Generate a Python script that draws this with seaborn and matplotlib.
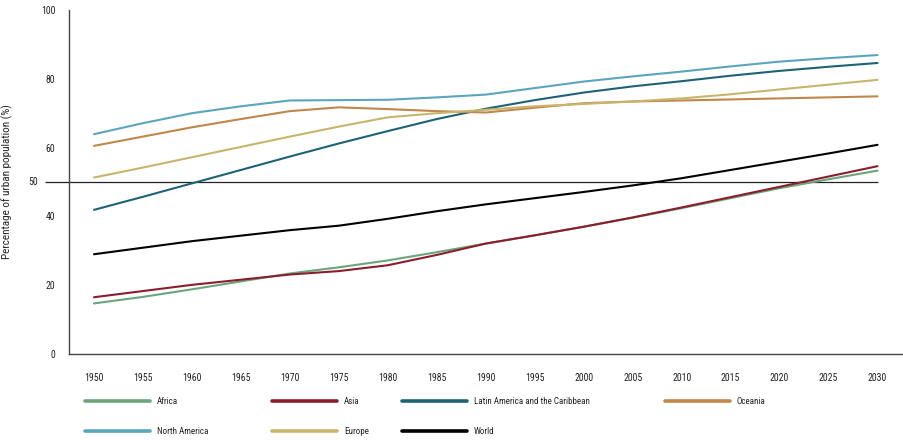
import numpy as np
import pandas as pd
import matplotlib.pyplot as plt
import seaborn as sns
from matplotlib.lines import Line2D

# --- data (% urban population) ---
years = list(range(1950, 2031, 5))
africa = [14.7, 16.6, 18.8, 21.1, 23.4, 25.2, 27.2, 29.6, 32.1, 34.5, 37.0, 39.6, 42.4, 45.3, 48.2, 50.8, 53.3]
asia = [16.5, 18.3, 20.1, 21.6, 23.1, 24.1, 25.8, 28.8, 32.1, 34.5, 37.0, 39.7, 42.6, 45.6, 48.6, 51.6, 54.6]
latin_america = [41.9, 45.7, 49.6, 53.5, 57.4, 61.2, 64.8, 68.3, 71.3, 73.8, 76.0, 77.8, 79.3, 80.9, 82.3, 83.5, 84.6]
oceania = [60.5, 63.2, 65.9, 68.3, 70.6, 71.7, 71.2, 70.6, 70.2, 71.6, 72.9, 73.4, 73.7, 74.0, 74.3, 74.6, 74.9]
north_america = [63.9, 67.1, 70.0, 72.0, 73.7, 73.8, 73.9, 74.6, 75.4, 77.3, 79.2, 80.7, 82.1, 83.6, 85.0, 86.0, 86.9]
europe = [51.3, 54.2, 57.2, 60.2, 63.2, 66.1, 68.8, 70.0, 71.0, 72.0, 72.7, 73.4, 74.3, 75.5, 76.9, 78.3, 79.7]
world = [29.0, 30.9, 32.8, 34.4, 36.0, 37.3, 39.3, 41.5, 43.5, 45.3, 47.1, 49.0, 51.1, 53.5, 55.9, 58.3, 60.8]

region_names = ['Africa', 'Asia', 'Latin America and the Caribbean', 'Oceania',
                'North America', 'Europe', 'World']
region_values = [africa, asia, latin_america, oceania, north_america, europe, world]
colors = {
    'Africa': '#6aa67a',
    'Asia': '#8c1d2e',
    'Latin America and the Caribbean': '#1f6276',
    'Oceania': '#c0864a',
    'North America': '#5ba5be',
    'Europe': '#c9b46c',
    'World': '#000000',
}

rows = []
for name, vals in zip(region_names, region_values):
    for y, v in zip(years, vals):
        rows.append({'year': y, 'pct': v, 'region': name})
df = pd.DataFrame(rows)

# --- style ---
sns.set_style('white')
# narrow font if there is one, otherwise Lato
plt.rcParams['font.family'] = ['Roboto Condensed', 'Liberation Sans Narrow', 'Lato', 'DejaVu Sans']
axis_col = '#444444'
text_col = '#222222'

W, H = 904, 440
fig = plt.figure(figsize=(W / 100, H / 100), dpi=100)
ax = fig.add_axes([69 / W, 1 - 354 / H, (903 - 69) / W, (354 - 10) / H])

sns.lineplot(data=df, x='year', y='pct', hue='region', palette=colors,
             linewidth=1.5, legend=False, ax=ax)

ax.set_xlim(1947.45, 2032.6)
ax.set_ylim(0, 100)

for s in ['top', 'right']:
    ax.spines[s].set_visible(False)
for s in ['left', 'bottom']:
    ax.spines[s].set_color(axis_col)
    ax.spines[s].set_linewidth(1.0)

# x: labels on the 5-year marks, tick marks in between
ax.set_xticks(years)
ax.set_xticklabels([str(y) for y in years])
ax.set_xticks([y + 2.5 for y in years[:-1]], minor=True)
ax.tick_params(axis='x', which='major', length=0, pad=14, labelsize=7, labelcolor=text_col)
ax.tick_params(axis='x', which='minor', direction='in', length=6.5, width=1.0, color=axis_col)

# y
ax.set_yticks([0, 20, 40, 60, 80, 100])
ax.tick_params(axis='y', which='major', direction='in', length=14, width=1.0,
               color=axis_col, pad=10, labelsize=7, labelcolor=text_col)
ax.set_xlabel('')
ax.set_ylabel('Percentage of urban population (%)', fontsize=8, color=text_col)
ax.yaxis.set_label_coords(-0.067, 0.5)

# 50% reference line
ax.hlines(50, 1945.0, 2030, color=text_col, linewidth=0.9, clip_on=False, zorder=1)
ax.text(1944.3, 50, '50', ha='right', va='center', fontsize=7, color=text_col)

# --- legend: four columns placed under the axis ---
columns = [
    (85, ['Africa', 'North America']),
    (272, ['Asia', 'Europe']),
    (402, ['Latin America and the Caribbean', 'World']),
    (665, ['Oceania']),
]
for x_px, names in columns:
    handles = [Line2D([], [], color=colors[n], linewidth=2.6) for n in names]
    fig.legend(handles, names, loc='upper left',
               bbox_to_anchor=(x_px / W, 1 - 397 / H),
               frameon=False, fontsize=6.5, handlelength=7.2, handletextpad=0.75,
               borderpad=0, borderaxespad=0, labelspacing=2.3, labelcolor=text_col)

fig.savefig('out.png', dpi=100)
